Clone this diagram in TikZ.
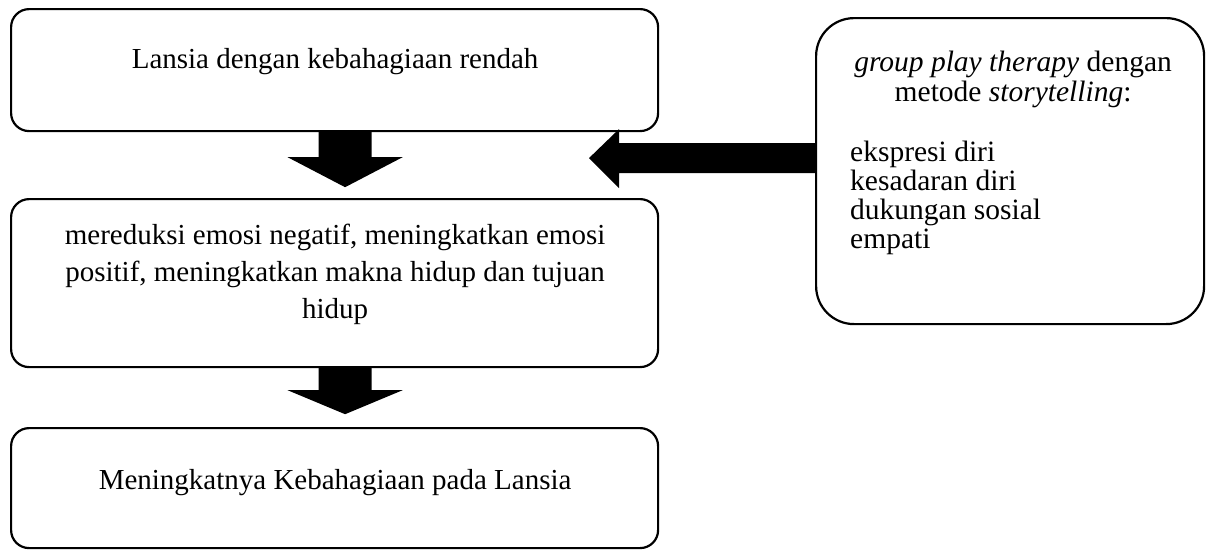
\documentclass[tikz,border=0pt]{standalone}
\usepackage{fontspec}
\setmainfont{Liberation Serif}
\usetikzlibrary{calc}
\begin{document}
\begin{tikzpicture}[x=1pt,y=-1pt,
  box/.style={draw, line width=2.2pt, rounded corners=18pt, minimum width=647pt, anchor=north west, inner sep=0pt},
  txt/.style={inner sep=0pt},
  blk/.style={fill=black}]
\useasboundingbox (0,0) rectangle (1206,549);
% boxes
\node[box, minimum height=122pt] (b1) at (10,8) {};
\node[box, minimum height=168pt] (b2) at (10,198) {};
\node[box, minimum height=120pt] (b3) at (10,427) {};
\node[box, rounded corners=38pt, minimum width=388pt, minimum height=306pt] (r) at (815,17) {};
% texts
\node[txt, anchor=base] (t1) at ($(b1.north)+(0.5,60)$) {\fontsize{29}{32.5}\selectfont Lansia dengan kebahagiaan rendah};
\node[txt, anchor=base] (t2) at ($(b2.north)+(0.5,46)$) {\fontsize{29}{37}\selectfont\begin{tabular}[t]{@{}c@{}}mereduksi emosi negatif, meningkatkan emosi\\ positif, meningkatkan makna hidup dan tujuan\\ hidup\end{tabular}};
\node[txt, anchor=base] (t3) at ($(b3.north)+(0.5,62)$) {\fontsize{29}{32.5}\selectfont Meningkatnya Kebahagiaan pada Lansia};
\node[txt, anchor=base] (t4) at ($(r.north)+(3,54)$) {\fontsize{29.5}{30}\selectfont\begin{tabular}[t]{@{}c@{}}\textit{group play therapy} dengan\\ metode \textit{storytelling}:\end{tabular}};
\node[txt, anchor=base west] (t5) at ($(r.north west)+(35,144)$) {\fontsize{29.5}{29.3}\selectfont\begin{tabular}[t]{@{}l@{}}ekspresi diri\\ kesadaran diri\\ dukungan sosial\\ empati\end{tabular}};
% block arrows
\fill[blk, shift={($(b1.south)+(10.5,0)$)}] (-26.5,0) -- (-26.5,25) -- (-57.5,25) -- (0,55) -- (57.5,25) -- (26.5,25) -- (26.5,0) -- cycle;
\fill[blk, shift={($(b2.south)+(10.5,0)$)}] (-26.5,0) -- (-26.5,22) -- (-57.5,22) -- (0,46) -- (57.5,22) -- (26.5,22) -- (26.5,0) -- cycle;
\fill[blk, shift={(r.west)}] (0,-28) -- (-196,-28) -- (-196,-42) -- (-226,-13) -- (-196,17) -- (-196,2) -- (0,2) -- cycle;
\end{tikzpicture}
\end{document}
